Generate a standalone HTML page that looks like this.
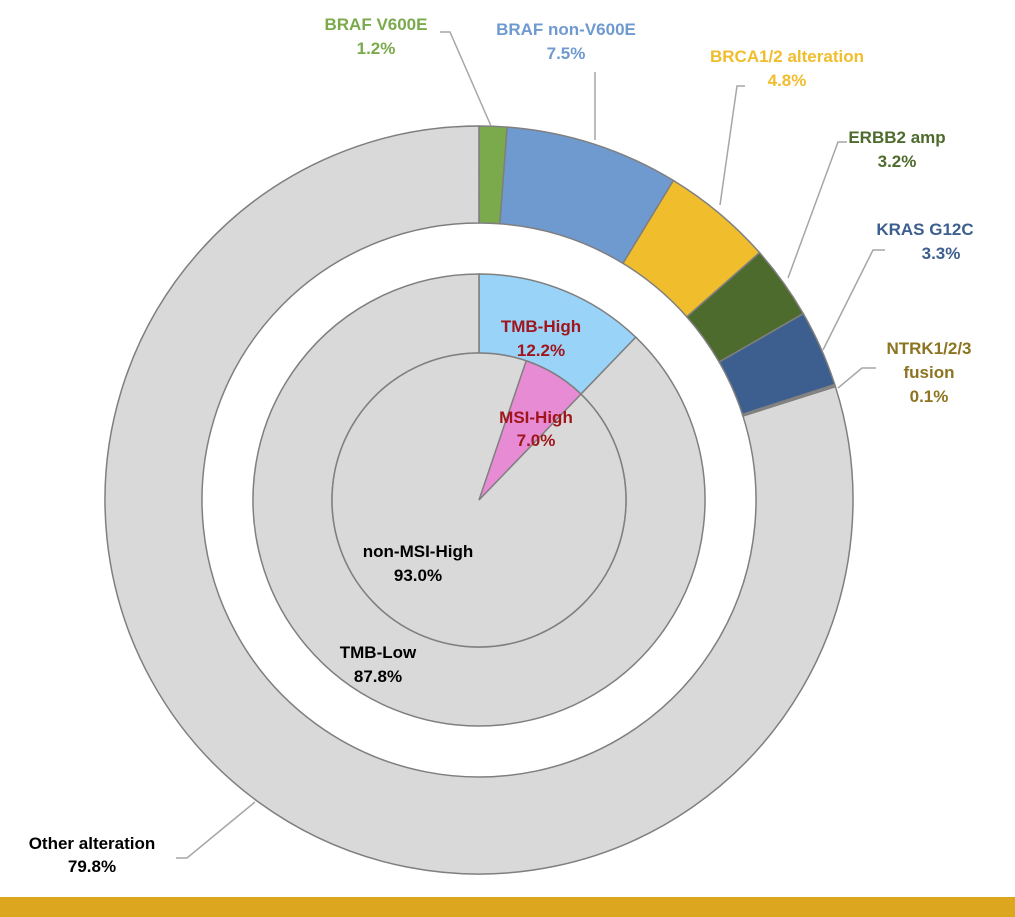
<!DOCTYPE html>
<html><head><meta charset="utf-8"><style>
html,body{margin:0;padding:0;background:#fff;}
svg{display:block;}
text{font-family:"Liberation Sans",Arial,sans-serif;font-weight:bold;font-size:17px;text-anchor:middle;}
</style></head><body>
<svg id="s" width="1015" height="917" viewBox="0 0 1015 917" xmlns="http://www.w3.org/2000/svg">
<g id="rings"></g>
<g stroke="#a6a6a6" stroke-width="1.5" fill="none">
<polyline points="440,32 450,32 491,126"/>
<polyline points="595,72 595,140"/>
<polyline points="745,86 737,86 720,205"/>
<polyline points="847,142 838,142 788,278"/>
<polyline points="885,250 873,250 823,350"/>
<polyline points="876,368 862,368 838,388"/>
<polyline points="176,858 187,858 255,802"/>
</g>
<g>
<text x="376" y="30" fill="#7aaa4c">BRAF V600E</text><text x="376" y="54" fill="#7aaa4c">1.2%</text>
<text x="566" y="35" fill="#6f9ad0">BRAF non-V600E</text><text x="566" y="59" fill="#6f9ad0">7.5%</text>
<text x="787" y="62" fill="#f0bd2d">BRCA1/2 alteration</text><text x="787" y="86" fill="#f0bd2d">4.8%</text>
<text x="897" y="143" fill="#4e6b2e">ERBB2 amp</text><text x="897" y="167" fill="#4e6b2e">3.2%</text>
<text x="925" y="235" fill="#3d5f8f">KRAS G12C</text><text x="941" y="259" fill="#3d5f8f">3.3%</text>
<text x="929" y="354" fill="#8c7420">NTRK1/2/3</text><text x="929" y="378" fill="#8c7420">fusion</text><text x="929" y="402" fill="#8c7420">0.1%</text>
<text x="541" y="332" fill="#a0161c">TMB-High</text><text x="541" y="356" fill="#a0161c">12.2%</text>
<text x="536" y="423" fill="#a0161c">MSI-High</text><text x="536" y="446" fill="#a0161c">7.0%</text>
<text x="418" y="557" fill="#000">non-MSI-High</text><text x="418" y="581" fill="#000">93.0%</text>
<text x="378" y="658" fill="#000">TMB-Low</text><text x="378" y="682" fill="#000">87.8%</text>
<text x="92" y="849" fill="#000">Other alteration</text><text x="92" y="872" fill="#000">79.8%</text>
</g>
<rect x="0" y="897" width="1015" height="20" fill="#dca71f"/>
</svg>
<script>
var cx=479,cy=500,g=document.getElementById('rings');
var NS='http://www.w3.org/2000/svg';
function pt(r,a){var t=a*Math.PI/180;return [cx+r*Math.sin(t),cy-r*Math.cos(t)];}
function add(d,fill){var e=document.createElementNS(NS,'path');e.setAttribute('d',d);e.setAttribute('fill',fill);e.setAttribute('stroke','#7f7f7f');e.setAttribute('stroke-width','1.5');g.appendChild(e);}
function seg(r0,r1,a0,a1,fill){
 var big=(a1-a0)>180?1:0,p=[pt(r1,a0),pt(r1,a1),pt(r0,a1),pt(r0,a0)],d;
 if(r0>0){d='M'+p[0]+' A'+r1+','+r1+' 0 '+big+' 1 '+p[1]+' L'+p[2]+' A'+r0+','+r0+' 0 '+big+' 0 '+p[3]+' Z';}
 else{d='M'+cx+','+cy+' L'+p[0]+' A'+r1+','+r1+' 0 '+big+' 1 '+p[1]+' Z';}
 add(d,fill);}
var outer=[[1.2,'#7aaa4c'],[7.5,'#6f9ad0'],[4.8,'#f0bd2d'],[3.2,'#4e6b2e'],[3.3,'#3d5f8f'],[0.1,'#8c8c8c'],[79.9,'#d9d9d9']];
var a=0;outer.forEach(function(s){var b=a+s[0]*3.6;if(b>359.99)b=359.99;seg(277,374,a,b,s[1]);a=b;});
seg(147,226,0,43.92,'#99d3f7');seg(147,226,43.92,359.99,'#d9d9d9');
var c=document.createElementNS(NS,'circle');c.setAttribute('cx',cx);c.setAttribute('cy',cy);c.setAttribute('r',147);c.setAttribute('fill','#d9d9d9');c.setAttribute('stroke','#7f7f7f');c.setAttribute('stroke-width','1.5');g.appendChild(c);
seg(0,147,18.72,43.92,'#e68bd4');
</script>
</body></html>
